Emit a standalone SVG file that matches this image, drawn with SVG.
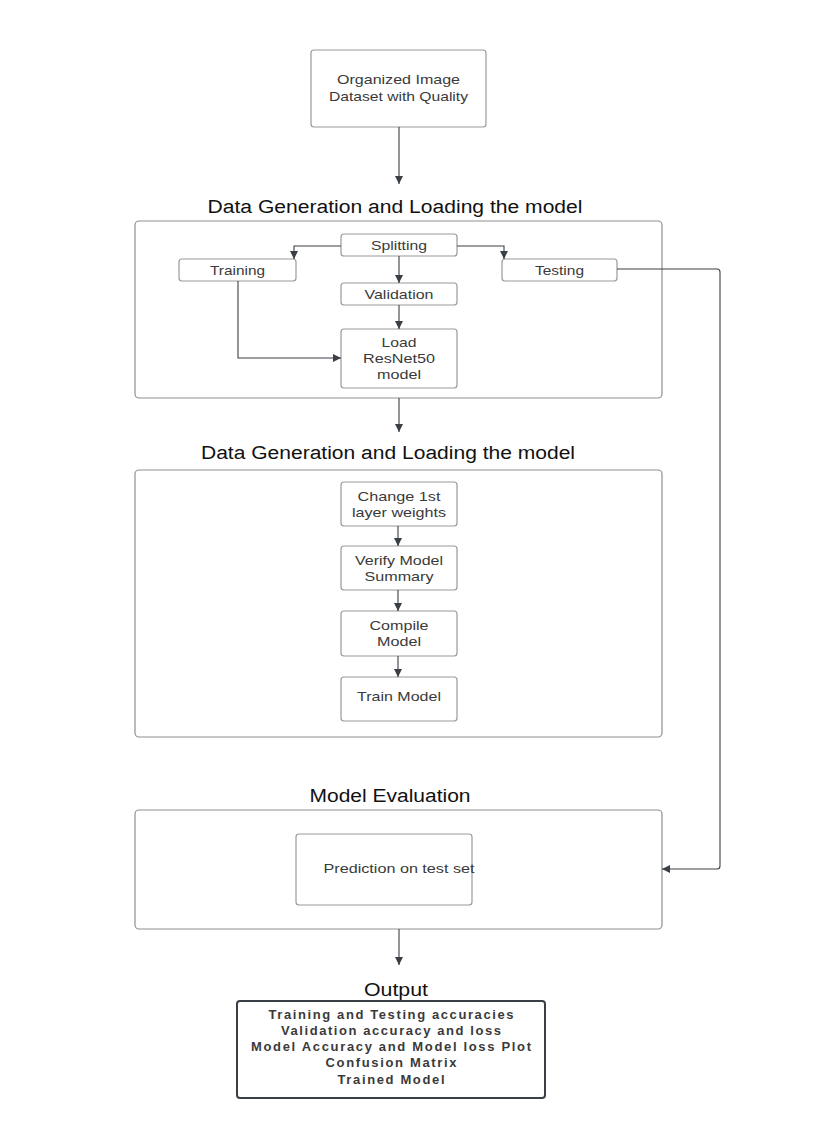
<svg xmlns="http://www.w3.org/2000/svg" width="822" height="1143" viewBox="0 0 822 1143">
<defs>
<marker id="ah" viewBox="0 0 10 10" refX="10" refY="5" markerWidth="8" markerHeight="8" markerUnits="userSpaceOnUse" orient="auto"><path d="M0,0 L10,5 L0,10 Z" fill="#3a3f45"/></marker>
<style>
.box{fill:#fff;stroke:#9a9a9a;stroke-width:1.2}
.sec{fill:#fff;stroke:#8f8f8f;stroke-width:1.2}
.lbl{font-family:"Liberation Sans",Arial,sans-serif;font-size:13.5px;fill:#3a3a3a;text-anchor:middle}
.ttl{font-family:"Liberation Sans",Arial,sans-serif;font-size:18px;fill:#111;text-anchor:middle}
.out{font-family:"Liberation Sans",Arial,sans-serif;font-size:13px;font-weight:bold;fill:#3a3a3a;text-anchor:middle}
.cn{fill:none;stroke:#3a3f45;stroke-width:1.1}
</style>
</defs>
<rect width="822" height="1143" fill="#fff"/>

<g id="titles">
<text class="ttl" x="395" y="213" textLength="375" lengthAdjust="spacingAndGlyphs">Data Generation and Loading the model</text>
<text class="ttl" x="388" y="459" textLength="374" lengthAdjust="spacingAndGlyphs">Data Generation and Loading the model</text>
<text class="ttl" x="390" y="802" textLength="161" lengthAdjust="spacingAndGlyphs">Model Evaluation</text>
<text class="ttl" x="396" y="996" font-size="19" textLength="64" lengthAdjust="spacingAndGlyphs">Output</text>
</g>

<g id="sections">
<rect id="section1" class="sec" x="135" y="221" width="527" height="177" rx="4"/>
<rect id="section2" class="sec" x="135" y="470" width="527" height="267" rx="4"/>
<rect id="section3" class="sec" x="135" y="810" width="527" height="119" rx="4"/>
</g>

<g id="dataset"><rect class="box" x="311" y="50" width="175" height="77" rx="3"/>
<text class="lbl" x="398.5" y="84" textLength="123" lengthAdjust="spacingAndGlyphs">Organized Image</text><text class="lbl" x="398.5" y="101" textLength="139" lengthAdjust="spacingAndGlyphs">Dataset with Quality</text></g>

<g id="splitting"><rect class="box" x="341" y="234" width="116" height="22" rx="3"/><text class="lbl" x="399" y="250" textLength="56" lengthAdjust="spacingAndGlyphs">Splitting</text></g>
<g id="training"><rect class="box" x="179" y="259" width="117" height="22" rx="3"/><text class="lbl" x="237.5" y="275" textLength="55" lengthAdjust="spacingAndGlyphs">Training</text></g>
<g id="testing"><rect class="box" x="502" y="259" width="115" height="22" rx="3"/><text class="lbl" x="559.5" y="275" textLength="49" lengthAdjust="spacingAndGlyphs">Testing</text></g>
<g id="validation"><rect class="box" x="341" y="283" width="116" height="22" rx="3"/><text class="lbl" x="399" y="299" textLength="69" lengthAdjust="spacingAndGlyphs">Validation</text></g>
<g id="load"><rect class="box" x="341" y="329" width="116" height="59" rx="3"/>
<text class="lbl" x="399" y="347" textLength="35" lengthAdjust="spacingAndGlyphs">Load</text><text class="lbl" x="399" y="363" textLength="72" lengthAdjust="spacingAndGlyphs">ResNet50</text><text class="lbl" x="399" y="379" textLength="44" lengthAdjust="spacingAndGlyphs">model</text></g>

<g id="change"><rect class="box" x="341" y="482" width="116" height="44" rx="3"/>
<text class="lbl" x="399" y="501" textLength="83" lengthAdjust="spacingAndGlyphs">Change 1st</text><text class="lbl" x="399" y="517" textLength="94" lengthAdjust="spacingAndGlyphs">layer weights</text></g>
<g id="verify"><rect class="box" x="341" y="546" width="116" height="44" rx="3"/>
<text class="lbl" x="399" y="565" textLength="88" lengthAdjust="spacingAndGlyphs">Verify Model</text><text class="lbl" x="399" y="581" textLength="69" lengthAdjust="spacingAndGlyphs">Summary</text></g>
<g id="compile"><rect class="box" x="341" y="611" width="116" height="45" rx="3"/>
<text class="lbl" x="399" y="630" textLength="59" lengthAdjust="spacingAndGlyphs">Compile</text><text class="lbl" x="399" y="646" textLength="44" lengthAdjust="spacingAndGlyphs">Model</text></g>
<g id="train"><rect class="box" x="341" y="677" width="116" height="44" rx="3"/>
<text class="lbl" x="399" y="701" textLength="84" lengthAdjust="spacingAndGlyphs">Train Model</text></g>

<g id="prediction"><rect class="box" x="296" y="834" width="176" height="71" rx="3"/>
<text class="lbl" x="399" y="873" textLength="151" lengthAdjust="spacingAndGlyphs">Prediction on test set</text></g>

<g id="output"><rect x="237" y="1001" width="308" height="97" rx="3" fill="#fff" stroke="#3a3f45" stroke-width="2"/>
<text class="out" x="391" y="1019" textLength="245" lengthAdjust="spacing">Training and Testing accuracies</text>
<text class="out" x="391" y="1035" textLength="220" lengthAdjust="spacing">Validation accuracy and loss</text>
<text class="out" x="391" y="1051" textLength="280" lengthAdjust="spacing">Model Accuracy and Model loss Plot</text>
<text class="out" x="391" y="1067" textLength="131" lengthAdjust="spacing">Confusion Matrix</text>
<text class="out" x="391" y="1084" textLength="107" lengthAdjust="spacing">Trained Model</text></g>

<g id="connectors">
<path class="cn" d="M399,127 V184" marker-end="url(#ah)"/>
<path class="cn" d="M341,246 H294 V259" marker-end="url(#ah)"/>
<path class="cn" d="M457,246 H504 V259" marker-end="url(#ah)"/>
<path class="cn" d="M399,256 V283" marker-end="url(#ah)"/>
<path class="cn" d="M399,305 V329" marker-end="url(#ah)"/>
<path class="cn" d="M238,281 V358 H341" marker-end="url(#ah)"/>
<path class="cn" d="M617,269 H717 Q720,269 720,272 V866 Q720,869 717,869 H662" marker-end="url(#ah)"/>
<path class="cn" d="M399,398 V432" marker-end="url(#ah)"/>
<path class="cn" d="M398,526 V546" marker-end="url(#ah)"/>
<path class="cn" d="M398,590 V611" marker-end="url(#ah)"/>
<path class="cn" d="M398,656 V677" marker-end="url(#ah)"/>
<path class="cn" d="M399,929 V965" marker-end="url(#ah)"/>
</g>
</svg>
